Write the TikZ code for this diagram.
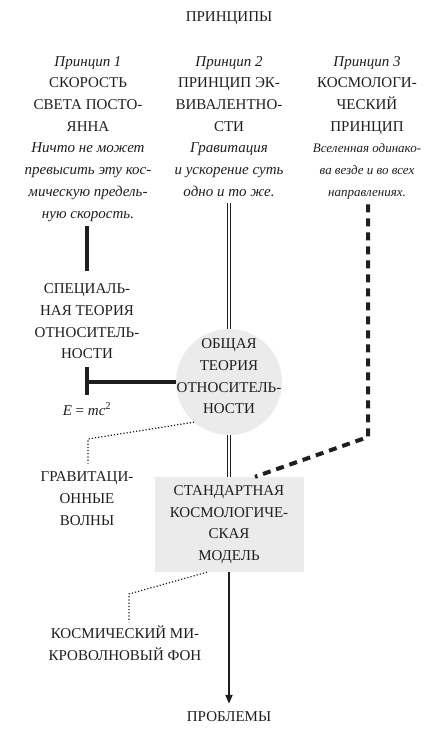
\documentclass[tikz,border=0pt]{standalone}
\usepackage{fontspec}
\setmainfont{Liberation Serif}
\usetikzlibrary{arrows.meta}
\definecolor{ink}{HTML}{1E1E1E}
\definecolor{shade}{HTML}{EBEBEB}

\begin{document}
\begin{tikzpicture}[x=1pt, y=-1pt]
    \tikzset{
      label/.style={align=center, inner sep=0pt, text=ink,
                    font=\fontsize{15}{21.7}\selectfont},
      theory/.style={label, fill=shade, minimum width=149pt,
                     minimum height=95pt},
      boldlink/.style={draw=ink, line width=4pt},
      twinlink/.style={draw=ink, double, line width=1pt, double distance=2pt},
      hintlink/.style={draw=ink, dotted, line width=1.2pt}
    }
    \useasboundingbox (0,0) rectangle (438,729);

    \node[label] (title) at (229,18) {ПРИНЦИПЫ};

    \node[label, anchor=north] (p1) at (88,56)
      {\textit{Принцип 1}\\СКОРОСТЬ\\СВЕТА ПОСТО-\\ЯННА\\
       \textit{Ничто не может}\\\textit{превысить эту кос-}\\
       \textit{мическую предель-}\\\textit{ную скорость.}};
    \node[label, anchor=north] (p2) at (229,56)
      {\textit{Принцип 2}\\ПРИНЦИП ЭК-\\ВИВАЛЕНТНО-\\СТИ\\
       \textit{Гравитация}\\\textit{и ускорение суть}\\\textit{одно и то же.}};
    \node[label, anchor=north] (p3) at (367,56)
      {\textit{Принцип 3}\\КОСМОЛОГИ-\\ЧЕСКИЙ\\ПРИНЦИП\\
       {\fontsize{13}{21.7}\selectfont\textit{Вселенная одинако-}}\\
       {\fontsize{13}{21.7}\selectfont\textit{ва везде и во всех}}\\
       {\fontsize{13}{21.7}\selectfont\textit{направлениях.}}};

    \node[label] (str) at (87,321.5)
      {СПЕЦИАЛЬ-\\НАЯ ТЕОРИЯ\\ОТНОСИТЕЛЬ-\\НОСТИ};
    \node[label] (emc) at (87,409) {\textit{E} = \textit{mc}\textsuperscript{2}};

    \node[circle, fill=shade, minimum size=106pt, inner sep=0pt] (gtr) at (229,382) {};
    \node[label] (gtrtext) at (229,376.5)
      {ОБЩАЯ\\ТЕОРИЯ\\ОТНОСИТЕЛЬ-\\НОСТИ};

    \node[label] (gw) at (87,498.5) {ГРАВИТАЦИ-\\ОННЫЕ\\ВОЛНЫ};

    \node[theory] (scm) at (229,524.5)
      {СТАНДАРТНАЯ\\КОСМОЛОГИЧЕ-\\СКАЯ\\МОДЕЛЬ};

    \node[label] (cmb) at (125,643.5) {КОСМИЧЕСКИЙ МИ-\\КРОВОЛНОВЫЙ ФОН};
    \node[label] (prob) at (229,717) {ПРОБЛЕМЫ};

    \coordinate (turn) at (368,437);
    \coordinate (gwbend) at (88,439);
    \coordinate (cmbbend) at (129,594);

    % Связи
    \draw[boldlink, shorten <=5pt, shorten >=13pt] (p1.south -| str.north) -- (str.north);
    \draw[boldlink, shorten <=8pt, shorten >=8pt] (str.south) -- (emc.north -| str.south);
    \draw[boldlink] (gtr.west) -- (gtr.west -| str.south);
    \draw[twinlink, shorten <=6pt] (p2.south) -- (gtr.north);
    \draw[twinlink] (gtr.south) -- (scm.north);
    \draw[boldlink, dash pattern=on 8pt off 6pt, shorten <=5pt]
      ([xshift=1pt]p3.south) -- (turn) -- ([xshift=26pt]scm.north);
    \draw[hintlink, shorten >=8pt] (gtr.229) -- (gwbend) -- (gw.north -| gwbend);
    \draw[hintlink, shorten >=4pt] ([xshift=-22pt]scm.south) -- (cmbbend) -- (cmb.north -| cmbbend);
    \draw[draw=ink, line width=2pt, -{Triangle[length=9pt, width=7pt]}, shorten >=8pt]
      (scm.south) -- (prob.north);
  \end{tikzpicture}
\end{document}
